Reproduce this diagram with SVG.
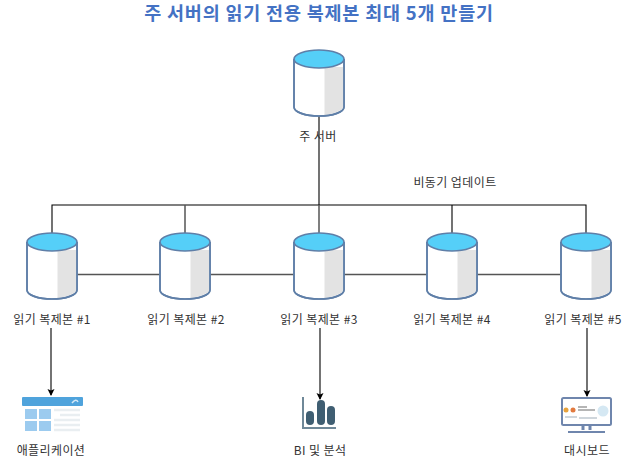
<svg xmlns="http://www.w3.org/2000/svg" width="637" height="466" viewBox="0 0 637 466">
<style>
text{font-family:"Noto Sans CJK KR","Liberation Sans",sans-serif;font-size:12px;letter-spacing:.4px;fill:#333;text-anchor:middle}
.title{font-size:18.500px;letter-spacing:.8px;font-weight:700;fill:#4472c4}
.body{fill:#fff;stroke:#5f7fa8;stroke-width:1.6}
.shade{fill:#e3e3e3}
.top{fill:#55cff8;stroke:#5f7fa8;stroke-width:1.6}
.k{fill:none;stroke:#000;stroke-width:1.1}
.g{fill:none;stroke:#555;stroke-width:1.5}
</style>
<defs>
<marker id="a" markerWidth="8" markerHeight="8" refX="6" refY="3.500" orient="auto" markerUnits="userSpaceOnUse"><path d="M0 0L7 3.500L0 7L1.500 3.500Z" fill="#000"/></marker>
<g id="cyl">
<path class="body" d="M-25 -32V16C-25 21-14 25 0 25S25 21 25 16V-32"/>
<path class="shade" d="M5.500 -24H24.200V16C24.200 19 16 23 5.500 24Z"/>
<path class="body" style="fill:none" d="M-25 -32V16C-25 21-14 25 0 25S25 21 25 16V-32"/>
<ellipse class="top" cx="0" cy="-32" rx="25" ry="9"/>
</g>
</defs>
<text class="title" x="319" y="19.500">주 서버의 읽기 전용 복제본 최대 5개 만들기</text>
<g id="connectors">
<path class="k" d="M319 115V205M52 233V205H586V233M452 205V233"/>
<path class="g" d="M185 205V233M319 205V233M77 274.500H160M210 274.500H294M344 274.500H427M477 274.500H561"/>
<path class="k" marker-end="url(#a)" d="M51 328V395"/>
<path class="k" marker-end="url(#a)" d="M320 328V399"/>
<path class="k" marker-end="url(#a)" d="M587 328V396"/>
</g>
<g id="primary"><use href="#cyl" x="319" y="91"/><text x="318" y="141">주 서버</text></g>
<text id="async-label" x="455" y="187">비동기 업데이트</text>
<g id="replica1"><use href="#cyl" x="52" y="274"/><text x="52" y="324">읽기 복제본 #1</text></g>
<g id="replica2"><use href="#cyl" x="185" y="274"/><text x="186" y="324">읽기 복제본 #2</text></g>
<g id="replica3"><use href="#cyl" x="319" y="274"/><text x="319" y="324">읽기 복제본 #3</text></g>
<g id="replica4"><use href="#cyl" x="452" y="274"/><text x="452" y="324">읽기 복제본 #4</text></g>
<g id="replica5"><use href="#cyl" x="586" y="274"/><text x="583" y="324">읽기 복제본 #5</text></g>
<g id="app">
<rect x="22" y="397" width="61" height="9" rx="1" fill="#4fa3dc"/>
<rect x="25" y="409" width="12" height="10" fill="#9ccbef"/><rect x="39" y="409" width="12" height="10" fill="#9ccbef"/>
<rect x="25" y="421" width="12" height="10" fill="#9ccbef"/><rect x="39" y="421" width="12" height="10" fill="#9ccbef"/>
<path d="M54 410H80M60 415H80M54 420H80M54 425H80M54 430H80" stroke="#e9eef1" stroke-width="2.500"/>
<path d="M72 403Q76 398 78 402" fill="none" stroke="#d5e9f7" stroke-width="1.500"/>
<text x="51" y="455">애플리케이션</text>
</g>
<g id="bi">
<path d="M303 397V428H336" fill="none" stroke="#6f8898" stroke-width="2"/>
<rect x="306" y="411" width="8" height="14" rx="4" fill="#3f5e72"/>
<rect x="317" y="400" width="8" height="25" rx="4" fill="#3f5e72"/>
<rect x="327" y="406" width="8" height="19" rx="4" fill="#3f5e72"/>
<text x="320" y="455">BI 및 분석</text>
</g>
<g id="dashboard">
<rect x="562" y="398" width="49" height="27" rx="1.500" fill="#fff" stroke="#6f86ad" stroke-width="2"/>
<circle cx="566" cy="410" r="2.500" fill="#e8a33d"/><circle cx="573" cy="410" r="2.500" fill="#e27a3f"/>
<path d="M578 407H587M578 410H595" stroke="#b5b5b5" stroke-width="2"/>
<path d="M565 417H577M579 418H597" stroke="#cfd6dc" stroke-width="2"/>
<circle cx="603" cy="411" r="5.500" fill="#d5e8f3"/>
<path d="M583 426V430M590 426V430" stroke="#6f86ad" stroke-width="3"/>
<rect x="568" y="431" width="37" height="2" fill="#6f86ad"/>
<text x="587" y="455">대시보드</text>
</g>
</svg>
